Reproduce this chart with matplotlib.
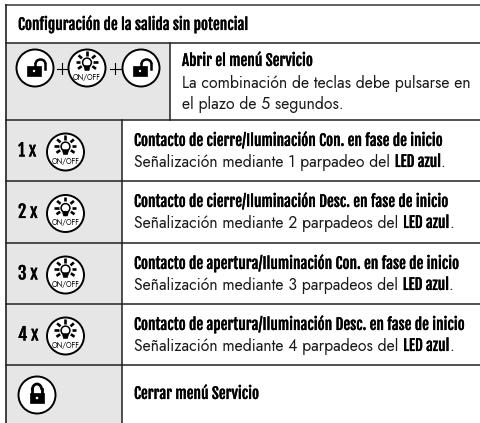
import matplotlib
matplotlib.use("Agg")
import matplotlib.pyplot as plt
from matplotlib.patches import Circle, Rectangle, Polygon, Arc
from matplotlib import patheffects as pe
import numpy as np

title = "Configuración de la salida sin potencial"
open_head = "Abrir el menú Servicio"
open_body = ["La combinación de teclas debe pulsarse en", "el plazo de 5 segundos."]
counts = ["1 x", "2 x", "3 x", "4 x"]
heads = [
    "Contacto de cierre/Iluminación Con. en fase de inicio",
    "Contacto de cierre/Iluminación Desc. en fase de inicio",
    "Contacto de apertura/Iluminación Con. en fase de inicio",
    "Contacto de apertura/Iluminación Desc. en fase de inicio",
]
blinks = ["1 parpadeo", "2 parpadeos", "3 parpadeos", "4 parpadeos"]
close_label = "Cerrar menú Servicio"

row_lines = [43, 120, 181, 243, 304, 365]
GREY = "#e6e6e6"
LINE = "#222222"
# the reference head font is heavier than Fjalla One, a thin stroke thickens it
HEAVY = [pe.withStroke(linewidth=0.15, foreground="black")]
BOLD = dict(family=["Fjalla One", "Liberation Sans"], color="black", path_effects=HEAVY)
BODY = dict(family=["Jost", "Lato", "DejaVu Sans"], color="#1a1a1a")
HEAD_SIZE = 11.0
BODY_SIZE = 11.4

fig = plt.figure(figsize=(4.81, 4.23), dpi=100)
ax = fig.add_axes([0, 0, 1, 1])
ax.set_xlim(0, 481)
ax.set_ylim(423, 0)
ax.axis("off")


def lock(cx, cy, r, closed=False):
    ax.add_patch(Circle((cx, cy), r, fc="white", ec="black", lw=1.4, zorder=3))
    if closed:
        ax.add_patch(Rectangle((cx - 7, cy - 2), 14, 10.5, fc="black", ec="black", lw=0.5, zorder=4))
        ax.add_patch(Arc((cx, cy - 5), 9.5, 12, theta1=180, theta2=360, ec="black", lw=2, zorder=4))
        ax.plot([cx - 4.75, cx - 4.75], [cy - 5.5, cy - 1], color="black", lw=2, zorder=4)
        ax.plot([cx + 4.75, cx + 4.75], [cy - 5.5, cy - 1], color="black", lw=2, zorder=4)
        ax.add_patch(Circle((cx, cy + 3), 1.3, fc="white", ec="none", zorder=5))
    else:
        ax.add_patch(Rectangle((cx - 8, cy - 2), 14, 10, fc="black", ec="black", lw=0.5, zorder=4))
        ax.add_patch(Arc((cx + 5.5, cy - 4), 10, 9, theta1=180, theta2=360, ec="black", lw=1.8, zorder=4))
        ax.plot([cx + 0.5, cx + 0.5], [cy - 4, cy - 1], color="black", lw=1.8, zorder=4)
        ax.plot([cx + 10.5, cx + 10.5], [cy - 4, cy + 1], color="black", lw=1.8, zorder=4)
        ax.add_patch(Circle((cx - 1, cy + 3), 1.2, fc="white", ec="none", zorder=5))


def onoff(cx, cy, r):
    ax.add_patch(Circle((cx, cy), r, fc="white", ec="black", lw=1.4, zorder=3))
    by = cy - 5.5
    ax.add_patch(Circle((cx, by), 4.4, fc="white", ec="black", lw=1.1, zorder=4))
    ax.add_patch(Polygon([(cx - 3.2, by + 3.2), (cx + 3.2, by + 3.2), (cx + 2, by + 8), (cx - 2, by + 8)],
                         fc="black", ec="black", lw=0.4, zorder=5))
    for ang in [-90, -40, -140, 0, 180, 35, 145]:
        a = np.radians(ang)
        ax.plot([cx + 6.5 * np.cos(a), cx + 11 * np.cos(a)],
                [by + 6.5 * np.sin(a), by + 11 * np.sin(a)],
                color="black", lw=1.9, solid_capstyle="butt", zorder=4)
    ax.text(cx, cy + 9.5, "ON/OFF", ha="center", va="center", fontsize=5.2,
            family=["Jost", "Lato", "DejaVu Sans"], weight="bold", zorder=5)


def inline(x, y, parts):
    # lay runs of regular and bold text one after another
    rend = fig.canvas.get_renderer()
    for s, style, size in parts:
        t = ax.text(x, y, s, va="baseline", ha="left", fontsize=size, **style)
        x += t.get_window_extent(rend).width


# grey cells
ax.add_patch(Rectangle((6, 43), 164, 77, fc=GREY, ec="none", zorder=0))
ax.add_patch(Rectangle((6, 120), 116, 303, fc=GREY, ec="none", zorder=0))

# grid lines
ax.plot([6, 481], [5.5, 5.5], color="#555555", lw=1.3, zorder=1)
for y in row_lines:
    ax.plot([6, 481], [y, y], color=LINE, lw=1.1, zorder=1)
ax.plot([6, 6], [5, 423], color=LINE, lw=1.2, zorder=1)
ax.plot([170.5, 170.5], [43, 120], color=LINE, lw=1.1, zorder=1)
ax.plot([122, 122], [120, 423], color=LINE, lw=1.1, zorder=1)

# header
ax.text(18, 30, title, va="baseline", fontsize=HEAD_SIZE, **BOLD)

# open service menu row
lock(35, 68, 18.5)
onoff(87, 68, 18.5)
lock(141, 68, 18.5)
ax.plot([57, 68], [69, 69], color="black", lw=0.8, zorder=2)
ax.plot([62.5, 62.5], [63.5, 74.5], color="black", lw=0.8, zorder=2)
ax.plot([110, 121], [69, 69], color="black", lw=0.8, zorder=2)
ax.plot([115.5, 115.5], [63.5, 74.5], color="black", lw=0.8, zorder=2)
ax.text(182, 66, open_head, va="baseline", fontsize=HEAD_SIZE, **BOLD)
ax.text(182, 88, open_body[0], va="baseline", fontsize=BODY_SIZE, **BODY)
ax.text(182, 109, open_body[1], va="baseline", fontsize=BODY_SIZE, **BODY)

# blink rows
for i in range(4):
    top = row_lines[i + 1]
    mid = (top + row_lines[i + 2]) / 2
    ax.text(18, mid + 6, counts[i], va="baseline", fontsize=12.5, **BOLD)
    onoff(65.5, mid + 1.5, 18.5)
    ax.text(134, top + 26, heads[i], va="baseline", fontsize=HEAD_SIZE, **BOLD)
    inline(134, top + 47, [
        ("Señalización mediante " + blinks[i] + " del ", BODY, BODY_SIZE),
        ("LED azul", BOLD, HEAD_SIZE),
        (".", BODY, BODY_SIZE),
    ])

# close menu row
lock(37, 395, 18.5, closed=True)
ax.text(134, 399, close_label, va="baseline", fontsize=HEAD_SIZE, **BOLD)

fig.savefig("out.png", dpi=100)
